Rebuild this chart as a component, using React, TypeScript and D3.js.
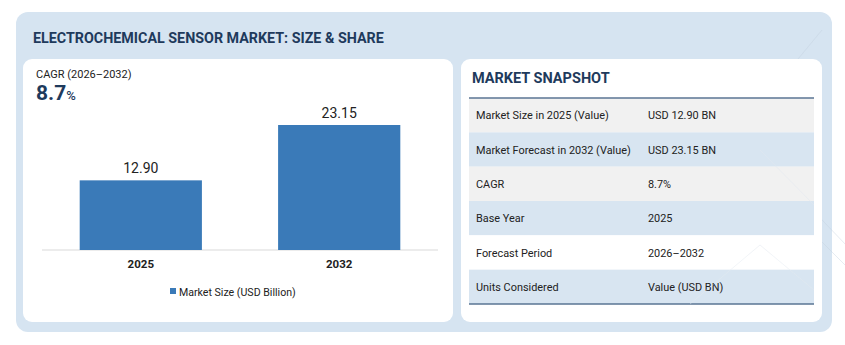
import React from "react";
import * as d3 from "d3";

const years = ["2025", "2032"];
const marketSize = [12.9, 23.15];
const cagrLabel = "CAGR (2026–2032)";
const cagrValue = "8.7";
const legendLabel = "Market Size (USD Billion)";
const snapshotLabels = [
  "Market Size in 2025 (Value)",
  "Market Forecast in 2032 (Value)",
  "CAGR",
  "Base Year",
  "Forecast Period",
  "Units Considered",
];
const snapshotValues = ["USD 12.90 BN", "USD 23.15 BN", "8.7%", "2025", "2026–2032", "Value (USD BN)"];
const rowFills = ["#f1f1f1", "#d8e5f1", "#f1f1f1", "#d8e5f1", "#ffffff", "#d8e5f1"];

const W = 845;
const H = 345;
const navy = "#1e3a5c";
const barColor = "#3a7ab8";
const font = "Roboto, 'Noto Sans', sans-serif";

const App = () => {
  // bar chart area
  const x = d3.scaleBand().domain(years).range([42, 438]).paddingInner(0.384).paddingOuter(0.19);
  const y = d3.scaleLinear().domain([0, 23.15]).range([250, 125]);

  // table area
  const rowY = d3.scaleBand().domain(snapshotLabels).range([98, 304]);

  return (
    <svg width={W} height={H} style={{ position: "absolute", left: 0, top: 0, background: "#fff", fontFamily: font }}>
      <rect x={16} y={12} width={816} height={320} rx={12} fill="#d6e4f1" />
      <text x={33} y={43} fontSize={14.3} fontWeight={700} fill={navy}>
        ELECTROCHEMICAL SENSOR MARKET: SIZE &amp; SHARE
      </text>

      {/* faint decorative lines */}
      <g stroke="#c3d1e0" strokeWidth={0.8} opacity={0.5} fill="none">
        <polyline points="822,30 760,105" />
        <polyline points="755,150 870,270" />
        <polyline points="690,310 790,210 880,300" />
        <polyline points="600,320 700,225 790,320" />
      </g>

      {/* left card */}
      <rect x={23} y={59} width={430} height={263} rx={9} fill="#fff" />
      <text x={36} y={78} fontSize={11} fill="#222">{cagrLabel}</text>
      <text x={36} y={100} fontSize={21} fontWeight={700} fill={navy}>
        {cagrValue}
        <tspan fontSize={13} fontWeight={500}>%</tspan>
      </text>

      <line x1={42} x2={438} y1={y(0)} y2={y(0)} stroke="#d9d9d9" strokeWidth={1} />
      {years.map((yr, i) => (
        <g key={yr}>
          <rect x={x(yr)} y={y(marketSize[i])} width={x.bandwidth()} height={y(0) - y(marketSize[i])} fill={barColor} />
          <text x={x(yr)! + x.bandwidth() / 2} y={y(marketSize[i]) - 7} textAnchor="middle" fontSize={14} fill="#222">
            {marketSize[i].toFixed(2)}
          </text>
          <text x={x(yr)! + x.bandwidth() / 2} y={268} textAnchor="middle" fontSize={11.5} fontWeight={700} fill="#222">
            {yr}
          </text>
        </g>
      ))}
      <rect x={170} y={288} width={6} height={6} fill={barColor} />
      <text x={179} y={296} fontSize={10.6} fill="#222">{legendLabel}</text>

      {/* right card */}
      <rect x={461} y={59} width={361} height={263} rx={9} fill="#fff" />
      <text x={472} y={83} fontSize={14.5} fontWeight={700} fill={navy}>MARKET SNAPSHOT</text>
      {snapshotLabels.map((lab, i) => (
        <g key={lab}>
          <rect x={469} y={rowY(lab)} width={345} height={rowY.bandwidth()} fill={rowFills[i]} />
          <text x={476} y={rowY(lab)! + rowY.bandwidth() / 2 + 4} fontSize={10.9} fill="#222">{lab}</text>
          <text x={648} y={rowY(lab)! + rowY.bandwidth() / 2 + 4} fontSize={10.9} fill="#222">{snapshotValues[i]}</text>
        </g>
      ))}
      <line x1={469} x2={814} y1={98} y2={98} stroke="#5a7593" strokeWidth={1.5} />
      <line x1={469} x2={814} y1={304} y2={304} stroke="#5a7593" strokeWidth={1.5} />

      {/* watermark lines over the table */}
      <g stroke="#e3e9f0" strokeWidth={0.8} opacity={0.6} fill="none">
        <polyline points="760,150 814,205" />
        <polyline points="690,304 760,245 814,290" />
      </g>
    </svg>
  );
};

export default App;
